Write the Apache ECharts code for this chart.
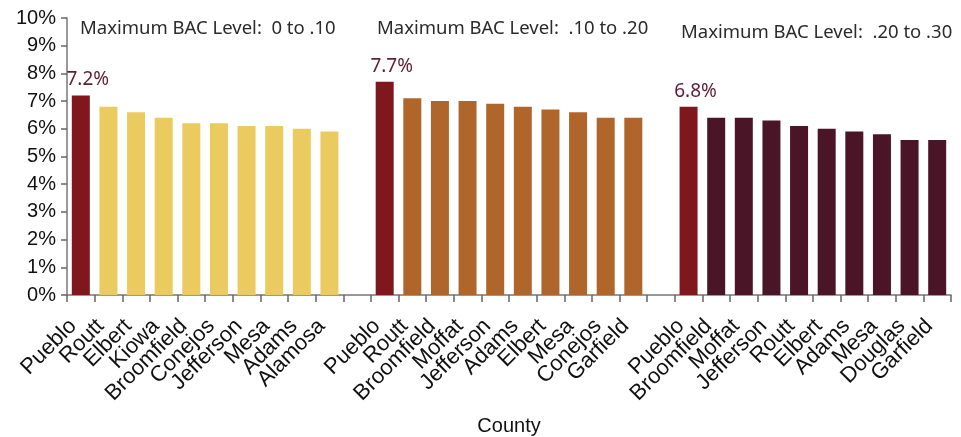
<!DOCTYPE html>
<html><head><meta charset="utf-8">
<script src="https://cdn.jsdelivr.net/npm/echarts@6/dist/echarts.min.js"></script>
<style>html,body{margin:0;padding:0;background:#fff}#c{width:961px;height:437px}</style>
</head><body><div id="c"></div>
<script>
const group1Counties = ['Pueblo','Routt','Elbert','Kiowa','Broomfield','Conejos','Jefferson','Mesa','Adams','Alamosa'];
const group1Values = [7.2,6.8,6.6,6.4,6.2,6.2,6.1,6.1,6.0,5.9];
const group2Counties = ['Pueblo','Routt','Broomfield','Moffat','Jefferson','Adams','Elbert','Mesa','Conejos','Garfield'];
const group2Values = [7.7,7.1,7.0,7.0,6.9,6.8,6.7,6.6,6.4,6.4];
const group3Counties = ['Pueblo','Broomfield','Moffat','Jefferson','Routt','Elbert','Adams','Mesa','Douglas','Garfield'];
const group3Values = [6.8,6.4,6.4,6.3,6.1,6.0,5.9,5.8,5.6,5.6];
const groupTitles = ['Maximum BAC Level:  0 to .10','Maximum BAC Level:  .10 to .20','Maximum BAC Level:  .20 to .30'];
const yTicks = [0,1,2,3,4,5,6,7,8,9,10];

const groupColors = ['#EBCB5F','#B0662A','#4B1528'];
const puebloColor = '#7F181C';
const labelColor = '#5E1E33';

const groups = [[group1Counties,group1Values],[group2Counties,group2Values],[group3Counties,group3Values]];
const categories = [];
const data = [];
groups.forEach((g, gi) => {
  if (gi > 0) { categories.push(''); data.push(null); }
  g[0].forEach((name, i) => {
    categories.push(name);
    const isPueblo = name === 'Pueblo';
    data.push({
      value: g[1][i],
      itemStyle: { color: isPueblo ? puebloColor : groupColors[gi] },
      label: isPueblo ? { show: true, position: 'top', distance: 6, offset: [7, 0],
        formatter: p => p.value.toFixed(1) + '%',
        color: labelColor, fontSize: 19, fontFamily: 'Noto Sans' } : { show: false }
    });
  });
});

const chart = echarts.init(document.getElementById('c'), null, { renderer: 'canvas' });
const titlePos = [{left: 80, top: 19}, {left: 377, top: 19}, {left: 681, top: 23}];
chart.setOption({
  animation: false,
  title: groupTitles.map((t, i) => ({
    text: t, left: titlePos[i].left, top: titlePos[i].top, padding: 0,
    textStyle: { fontFamily: 'Noto Sans', fontWeight: 'normal', fontSize: 18.5, color: '#2b2b2b' }
  })),
  grid: { left: 67, right: 10, top: 18, bottom: 142, containLabel: false, outerBoundsMode: 'none' },
  xAxis: {
    type: 'category', data: categories,
    name: 'County', nameLocation: 'middle', nameGap: 121,
    nameTextStyle: { fontFamily: 'Liberation Sans', fontSize: 20, color: '#111' },
    axisLine: { lineStyle: { color: '#777', width: 1.5 } },
    axisTick: { show: true, alignWithLabel: false, length: 7, lineStyle: { color: '#666', width: 1.5 } },
    axisLabel: { interval: 0, rotate: 45, margin: 20, padding: [0, 11, 0, 0], fontFamily: 'Liberation Sans', fontSize: 22, color: '#111' }
  },
  yAxis: {
    type: 'value', min: 0, max: 10, interval: 1,
    axisLine: { show: true, lineStyle: { color: '#777', width: 1.5 } },
    axisTick: { show: true, length: 6, lineStyle: { color: '#666', width: 1.5 } },
    splitLine: { show: false },
    axisLabel: { margin: 11, fontFamily: 'Liberation Sans', fontSize: 20, color: '#111',
      formatter: v => yTicks.includes(v) ? v + '%' : '' }
  },
  series: [{ type: 'bar', data: data, barWidth: 18 }]
});
</script></body></html>
